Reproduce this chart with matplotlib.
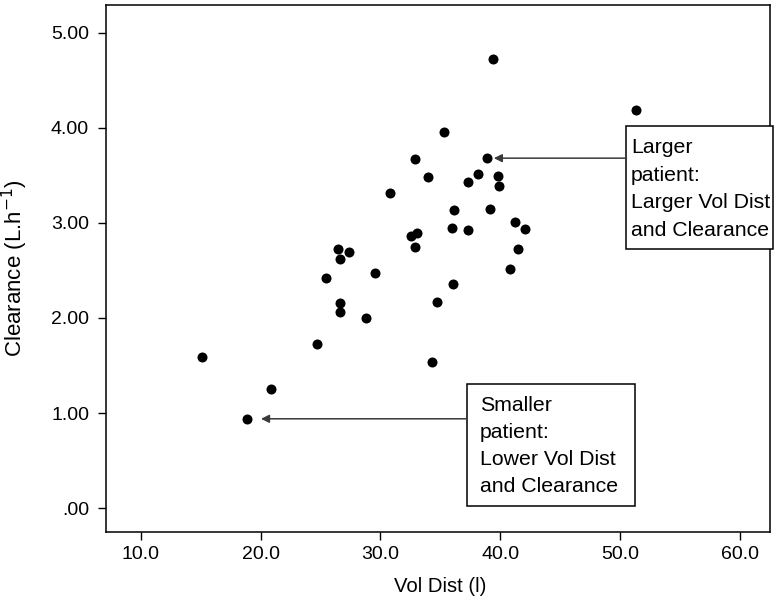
import matplotlib
matplotlib.use("Agg")
import matplotlib.pyplot as plt
from matplotlib.patches import Rectangle

plt.rcParams["font.family"] = ["Liberation Sans", "DejaVu Sans"]

# Volume of distribution (l) and clearance (L/h) for each patient
vol_dist = [32.86, 38.85, 34.00, 30.79, 38.18, 37.34, 39.77, 39.85, 36.17, 39.10,
            36.01, 37.34, 41.23, 42.08, 32.58, 33.08, 32.86, 41.50, 40.81, 26.46,
            27.40, 26.59, 29.55, 25.48, 36.03, 34.69, 26.59, 26.59, 28.80, 24.70,
            15.15, 34.31, 20.89, 18.88, 35.31, 39.43, 51.35]
clearance = [3.67, 3.68, 3.48, 3.31, 3.51, 3.43, 3.49, 3.39, 3.14, 3.15,
             2.95, 2.92, 3.01, 2.93, 2.86, 2.89, 2.75, 2.72, 2.52, 2.73,
             2.69, 2.62, 2.47, 2.42, 2.36, 2.17, 2.16, 2.06, 2.00, 1.73,
             1.59, 1.54, 1.25, 0.94, 3.95, 4.72, 4.19]

x_ticks = [10, 20, 30, 40, 50, 60]
x_tick_labels = ["10.0", "20.0", "30.0", "40.0", "50.0", "60.0"]
y_ticks = [0, 1, 2, 3, 4, 5]
y_tick_labels = [".00", "1.00", "2.00", "3.00", "4.00", "5.00"]

larger_idx = 1
larger_lines = ["Larger", "patient:", "Larger Vol Dist", "and Clearance"]
smaller_idx = 33
smaller_lines = ["Smaller", "patient:", "Lower Vol Dist", "and Clearance"]

FS = 14
NOTE_FS = 15.3

fig = plt.figure(figsize=(7.74, 6.06), dpi=100)
ax = fig.add_axes([105.7 / 774, 1 - 532 / 606, (770 - 105.7) / 774, 527 / 606])

ax.scatter(vol_dist, clearance, s=52, color="black", zorder=3, linewidths=0)

ax.set_xlim(7.08, 62.5)
ax.set_ylim(-0.25, 5.29)
ax.set_xticks(x_ticks)
ax.set_xticklabels(x_tick_labels)
ax.set_yticks(y_ticks)
ax.set_yticklabels(y_tick_labels)
ax.tick_params(axis="both", direction="out", length=5.5, width=1.0,
               labelsize=FS, colors="black")
ax.tick_params(axis="x", pad=4.5)
ax.tick_params(axis="y", pad=6.5)
for sp in ax.spines.values():
    sp.set_linewidth(1.1)

ax.set_xlabel("Vol Dist (l)", fontsize=14.6)
ax.set_ylabel("Clearance (L.h$^{-1}$)", fontsize=16)
ax.xaxis.set_label_coords(0.503, -0.086)
ax.yaxis.set_label_coords(-0.114, 0.5)


def note_box(left, right, bottom, top, text_x, first_y, step, lines, idx, shrink):
    ax.add_patch(Rectangle((left, bottom), right - left, top - bottom,
                           facecolor="white", edgecolor="black", lw=1.1,
                           clip_on=False, zorder=4))
    for i, line in enumerate(lines):
        ax.text(text_x, first_y - i * step, line, fontsize=NOTE_FS, va="center",
                ha="left", zorder=5, clip_on=False)
    ax.annotate("", xy=(vol_dist[idx], clearance[idx]),
                xytext=(left, clearance[idx]),
                arrowprops=dict(arrowstyle="-|>", color="#3a3a3a", lw=1.1,
                                shrinkA=0, shrinkB=shrink, mutation_scale=12),
                zorder=4)


note_box(50.52, 62.74, 2.729, 4.017, 50.90, 3.79, 0.2895,
         larger_lines, larger_idx, 5.3)
note_box(37.20, 51.27, 0.024, 1.308, 38.30, 1.08, 0.284,
         smaller_lines, smaller_idx, 10)

fig.savefig("out.png", dpi=100)
